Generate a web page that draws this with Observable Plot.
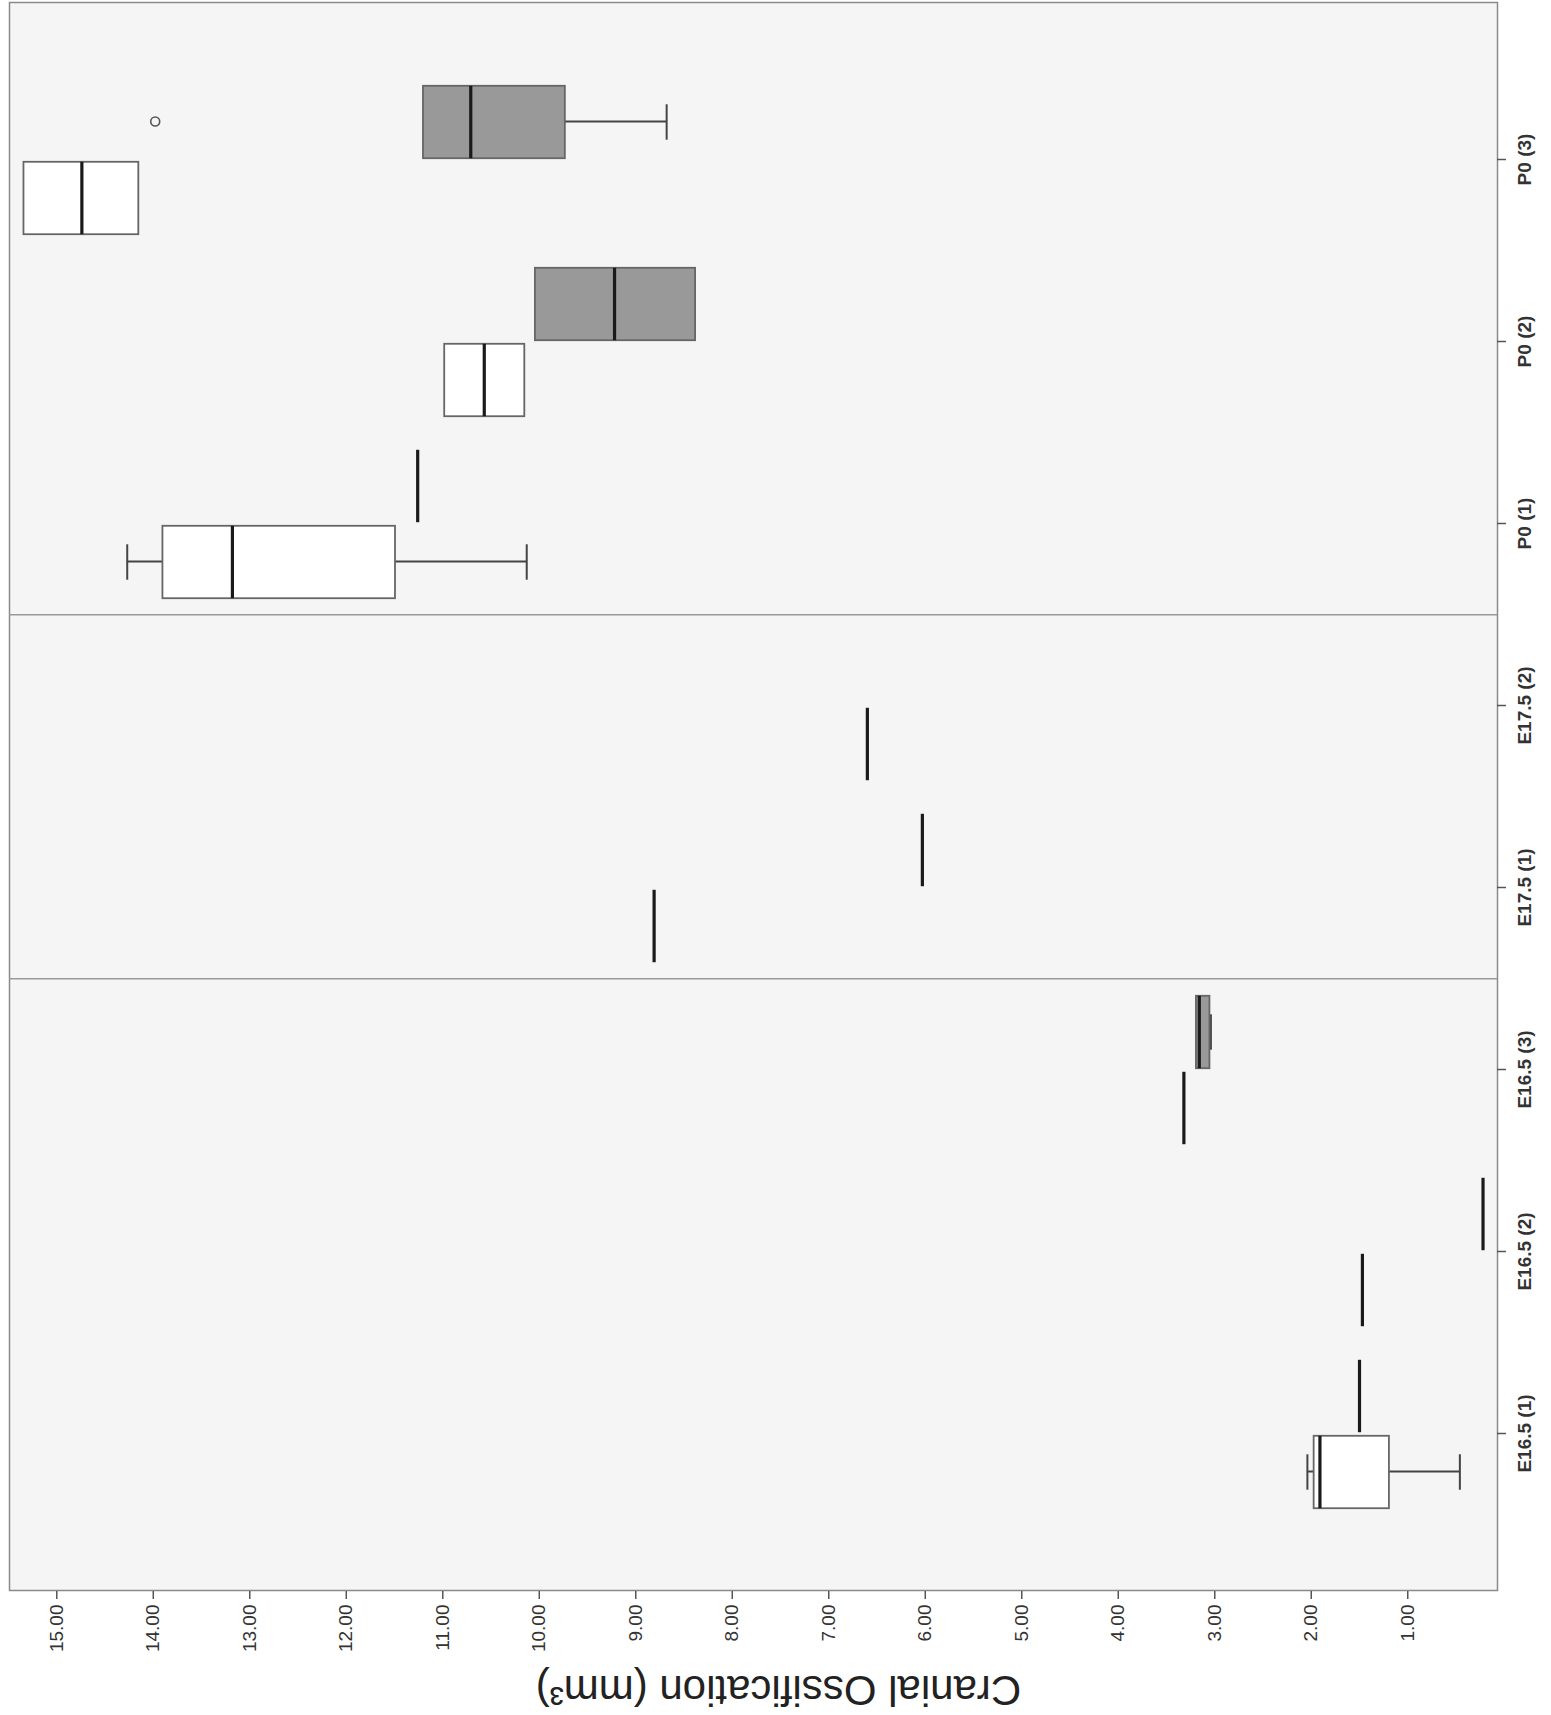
<!DOCTYPE html>
<html><head><meta charset="utf-8">
<script src="https://cdn.jsdelivr.net/npm/d3@7"></script>
<script src="https://cdn.jsdelivr.net/npm/@observablehq/plot@0.6"></script>
<style>
html,body{margin:0;padding:0;background:#fff;}
#wrap{position:relative;width:1551px;height:1715px;overflow:hidden;}
#chart{position:absolute;left:0;top:0;width:1715px;height:1551px;transform-origin:0 0;transform:translate(0,1715px) rotate(-90deg);}
#chart svg{max-width:none !important;width:1715px;height:1551px;display:block;}
</style></head><body><div id="wrap"><div id="chart"></div></div>
<script>
// ---- data ----
const categories = ["E16.5 (1)","E16.5 (2)","E16.5 (3)","E17.5 (1)","E17.5 (2)","P0 (1)","P0 (2)","P0 (3)"];
const groupStarts = ["E17.5 (1)", "P0 (1)"];
const yTicks = [1,2,3,4,5,6,7,8,9,10,11,12,13,14,15];
const axisTitle = "Cranial Ossification (mm³)";

// white series: low whisker, Q1, median, Q3, high whisker
const whiteLow    = [0.46, 1.47, 3.32, 8.81, 6.60, 10.13, 10.15, 14.15];
const whiteQ1     = [1.19, 1.47, 3.32, 8.81, 6.60, 11.49, 10.15, 14.15];
const whiteMedian = [1.91, 1.47, 3.32, 8.81, 6.60, 13.18, 10.57, 14.74];
const whiteQ3     = [1.97, 1.47, 3.32, 8.81, 6.60, 13.90, 10.98, 15.34];
const whiteHigh   = [2.04, 1.47, 3.32, 8.81, 6.60, 14.27, 10.98, 15.34];

// gray series
const grayLow    = [1.50, 0.22, 3.04, 6.03, null, 11.26, 8.38, 8.68];
const grayQ1     = [1.50, 0.22, 3.05, 6.03, null, 11.26, 8.38, 9.73];
const grayMedian = [1.50, 0.22, 3.16, 6.03, null, 11.26, 9.22, 10.71];
const grayQ3     = [1.50, 0.22, 3.19, 6.03, null, 11.26, 10.04, 11.20];
const grayHigh   = [1.50, 0.22, 3.19, 6.03, null, 11.26, 10.04, 11.20];

const outlierCategory = ["P0 (3)"];
const outlierSeries = ["gray"];
const outlierValue = [13.98];

// ---- build tables ----
function rows(series, lo, q1, med, q3, hi) {
  return categories.map((c, i) => ({cat: c, series, lo: lo[i], q1: q1[i], med: med[i], q3: q3[i], hi: hi[i]}))
    .filter(d => d.med != null);
}
const white = rows("white", whiteLow, whiteQ1, whiteMedian, whiteQ3, whiteHigh);
const gray = rows("gray", grayLow, grayQ1, grayMedian, grayQ3, grayHigh);
const outliers = outlierValue.map((v, i) => ({cat: outlierCategory[i], series: outlierSeries[i], value: v}));

// ---- geometry (original upright orientation; the SVG is rotated afterwards) ----
const W = 1715, H = 1551;
const ml = 124, mr = 3, mt = 9, mb = 54;
const padOuter = 0.349;
const step = (W - ml - mr) / (categories.length + 2 * padOuter);
const half = step / 2;
const boxW = 73, gapHalf = 1.5, capHalf = 18;
const off = gapHalf + boxW / 2; // box centre offset from category centre
const geom = {
  white: {il: half - gapHalf - boxW, ir: half + gapHalf, dx: -off, fill: "#ffffff"},
  gray:  {il: half + gapHalf, ir: half - gapHalf - boxW, dx: off, fill: "#999999"}
};

function seriesMarks(data, g) {
  const lowW = data.filter(d => d.lo < d.q1);
  const highW = data.filter(d => d.hi > d.q3);
  const boxes = data.filter(d => d.q3 > d.q1);
  const capIl = half + g.dx - capHalf, capIr = half - g.dx - capHalf;
  return [
    Plot.ruleX(lowW, {x: "cat", y1: "lo", y2: "q1", dx: g.dx, stroke: "#444", strokeWidth: 2}),
    Plot.ruleX(highW, {x: "cat", y1: "q3", y2: "hi", dx: g.dx, stroke: "#444", strokeWidth: 2}),
    Plot.tickY(lowW, {x: "cat", y: "lo", insetLeft: capIl, insetRight: capIr, stroke: "#444", strokeWidth: 2}),
    Plot.tickY(highW, {x: "cat", y: "hi", insetLeft: capIl, insetRight: capIr, stroke: "#444", strokeWidth: 2}),
    Plot.barY(boxes, {x: "cat", y1: "q1", y2: "q3", insetLeft: g.il, insetRight: g.ir, fill: g.fill, stroke: "#666", strokeWidth: 1.8}),
    Plot.tickY(data, {x: "cat", y: "med", insetLeft: g.il, insetRight: g.ir, stroke: "#1a1a1a", strokeWidth: 3.2})
  ];
}

const chart = Plot.plot({
  width: W, height: H,
  marginLeft: ml, marginRight: mr, marginTop: mt, marginBottom: mb,
  style: {fontFamily: "'Liberation Sans', Arial, sans-serif", background: "transparent", color: "#333", overflow: "visible"},
  x: {type: "band", domain: categories, paddingInner: 0, paddingOuter: padOuter, align: 0.5},
  y: {domain: [0.07, 15.49]},
  marks: [
    Plot.frame({fill: "#f5f5f5", stroke: "#8a8a8a", strokeWidth: 1.5}),
    Plot.ruleX(groupStarts, {x: d => d, dx: -half, stroke: "#9a9a9a", strokeWidth: 1.5}),
    ...seriesMarks(white, geom.white),
    ...seriesMarks(gray, geom.gray),
    Plot.dot(outliers, {x: "cat", y: "value", dx: geom.gray.dx, r: 4.5, stroke: "#555", strokeWidth: 1.6, fill: "#f5f5f5"}),
    Plot.axisY({ticks: yTicks, tickFormat: d3.format(".2f"), tickSize: 8, tickPadding: 6, fontSize: 19, label: null, line: true, stroke: "#555", strokeWidth: 1.5, fill: "#333"}),
    Plot.axisX({tickSize: 9, tickPadding: 11, fontSize: 19, fontWeight: "bold", label: null, line: true, stroke: "#555", strokeWidth: 1.5, fill: "#333"}),
    Plot.text([axisTitle], {text: d => d, frameAnchor: "left", textAnchor: "middle", lineAnchor: "middle", rotate: -90, dx: -99, dy: 25, fontSize: 42, fill: "#222"})
  ]
});
document.getElementById("chart").appendChild(chart);
</script></body></html>
